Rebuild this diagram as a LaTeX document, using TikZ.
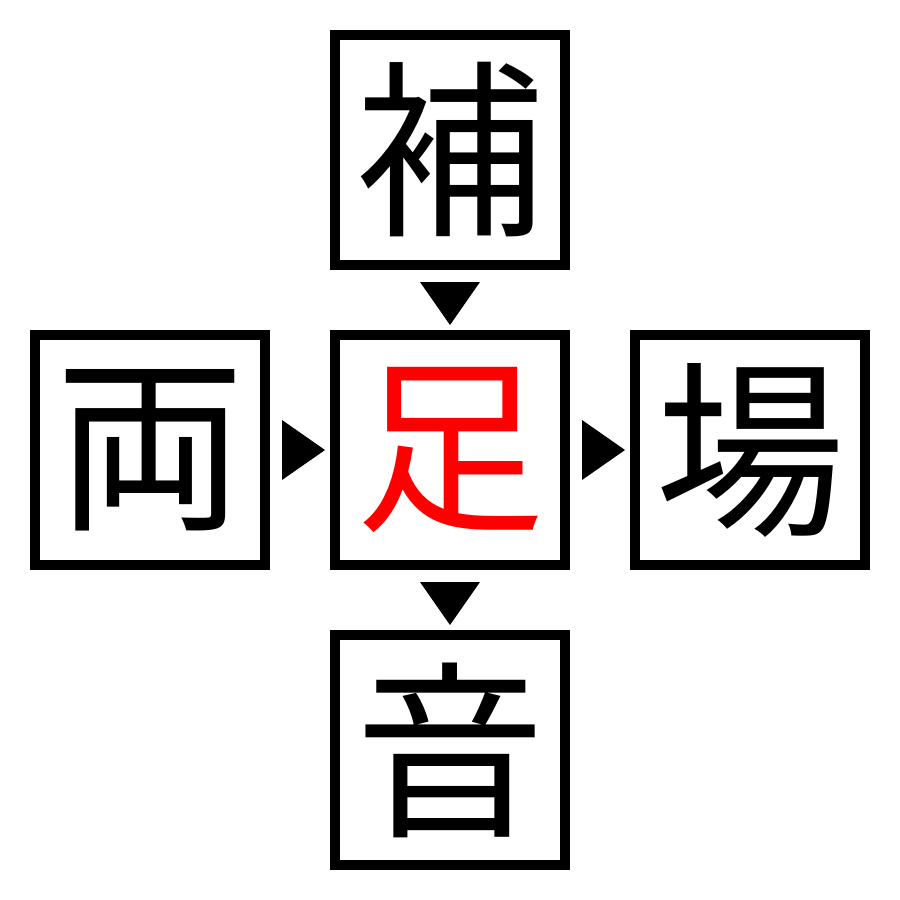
\documentclass[tikz,border=0pt]{standalone}
\usepackage{fontspec}
\usetikzlibrary{calc}
\newfontfamily\cjk{Noto Sans CJK JP}
\begin{document}
\begin{tikzpicture}[x=0.01cm,y=-0.01cm,
  kbox/.style={draw=black,line width=0.1cm,minimum size=2.3cm,inner sep=0pt,font=\cjk\fontsize{54}{54}\selectfont},
  tri/.style={fill=black,draw=none}]
\useasboundingbox (0,0) rectangle (900,900);
\fill[white] (0,0) rectangle (900,900);
\node[kbox] (top) at (450,150) {補};
\node[kbox] (left) at (150,450) {両};
\node[kbox,text=red] (mid) at (450,450) {足};
\node[kbox] (right) at (750,450) {場};
\node[kbox] (bot) at (450,750) {音};
% down triangles
\coordinate (d1) at ($(top.south)!0.5!(mid.north)$);
\coordinate (d2) at ($(mid.south)!0.5!(bot.north)$);
\coordinate (r1) at ($(left.east)!0.5!(mid.west)$);
\coordinate (r2) at ($(mid.east)!0.5!(right.west)$);
\foreach \c in {d1,d2}{
  \fill[tri] ($(\c)+(-30,-18)$) -- ($(\c)+(30,-18)$) -- ($(\c)+(0,25)$) -- cycle;
}
\foreach \c in {r1,r2}{
  \fill[tri] ($(\c)+(-18,-30)$) -- ($(\c)+(-18,30)$) -- ($(\c)+(25,0)$) -- cycle;
}
\end{tikzpicture}
\end{document}
